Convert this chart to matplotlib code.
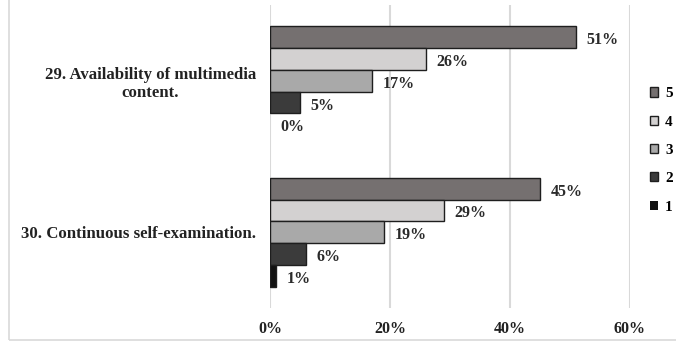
import numpy as np
import matplotlib.pyplot as plt
from matplotlib.patches import Rectangle

plt.rcParams['font.family'] = ['Liberation Serif', 'DejaVu Serif']
plt.rcParams['font.weight'] = 'bold'

# survey items and answer shares (%) per rating
items = ["29. Availability of multimedia\ncontent.", "30. Continuous self-examination."]
ratings = ["5", "4", "3", "2", "1"]
share_5 = [51, 45]
share_4 = [26, 29]
share_3 = [17, 19]
share_2 = [5, 6]
share_1 = [0, 1]
shares = [share_5, share_4, share_3, share_2, share_1]
colors = ["#757070", "#d3d1d1", "#a9a9a9", "#3b3b3b", "#111111"]

fig = plt.figure(figsize=(6.76, 3.42), dpi=100)
ax = fig.add_axes([0.3994, 0.0994, 0.5325, 0.886])

# thin grey frame around the chart area
fig.patches.append(Rectangle((9 / 676, 2 / 342), 1.2, 1.2, transform=fig.transFigure,
                             fill=False, edgecolor="#d9d9d9", linewidth=1.2))

y = np.arange(len(items))
h = 0.144
for i, (vals, c, r) in enumerate(zip(shares, colors, ratings)):
    pos = y + (i - 2) * h
    lw = [1.0 if v > 0 else 0 for v in vals]
    ax.barh(pos, vals, height=h, color=c, edgecolor="#1e1e1e", linewidth=lw,
            label=r, zorder=3)
    for p, v in zip(pos, vals):
        ax.text(v + 1.8, p + 0.02, f"{v}%", va="center", ha="left",
                fontsize=11.5, fontweight="bold", color="#2a2a2a")

ax.set_xlim(0, 60)
ax.set_ylim(1.5, -0.5)
ax.set_xticks([0, 20, 40, 60])
ax.set_xticklabels(["0%", "20%", "40%", "60%"])
ax.set_yticks(y)
ax.set_yticklabels(items, multialignment="center")
ax.tick_params(axis="y", length=0, pad=10, labelsize=12.1)
ax.tick_params(axis="x", length=0, pad=9, labelsize=11.5)
for lab in ax.get_xticklabels() + ax.get_yticklabels():
    lab.set_fontweight("bold")
    lab.set_color("#222222")

ax.grid(axis="x", color="#d9d9d9", linewidth=1.5, zorder=0)
for s in ax.spines.values():
    s.set_visible(False)

leg = ax.legend(loc="center left", bbox_to_anchor=(1.0, 0.52), frameon=False,
                handlelength=0.55, handleheight=0.55, handletextpad=0.45,
                labelspacing=1.0, fontsize=11, borderaxespad=0.9)
for t in leg.get_texts():
    t.set_fontweight("bold")

fig.savefig("out.png", dpi=100)
